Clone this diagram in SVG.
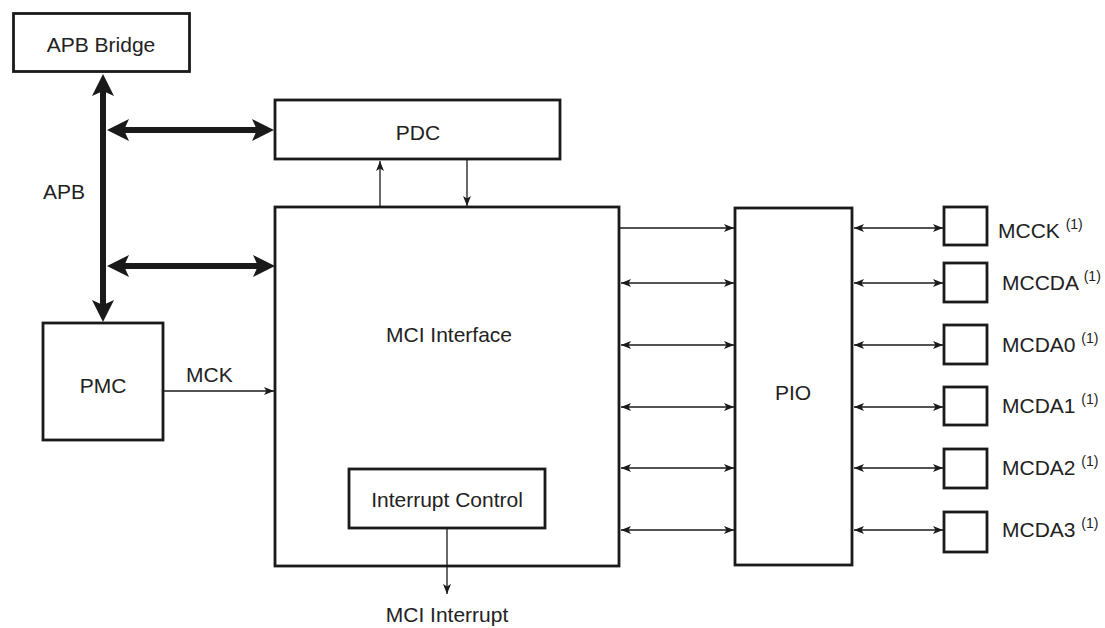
<svg xmlns="http://www.w3.org/2000/svg" width="1105" height="628" viewBox="0 0 1105 628">
<style>
.box{fill:#fff;stroke:#1a1a1a;stroke-width:2.8}
.t{font-family:"Liberation Sans",Arial,sans-serif;font-size:21px;fill:#222}
.c{text-anchor:middle}
.s{font-size:14px}
.thin{stroke:#1a1a1a;stroke-width:1.3;fill:none}
.bus{stroke:#1a1a1a;stroke-width:6;fill:none}
</style>
<defs>
<marker id="a" viewBox="0 0 10 8" refX="10" refY="4" markerWidth="10" markerHeight="8" markerUnits="userSpaceOnUse" orient="auto-start-reverse">
<path d="M0,0 L10,4 L0,8 L2.5,4 Z" fill="#1a1a1a"/>
</marker>
<marker id="b" viewBox="0 0 22 22" refX="6" refY="11" markerWidth="22" markerHeight="22" markerUnits="userSpaceOnUse" orient="auto-start-reverse">
<path d="M0,0 L22,11 L0,22 L5,11 Z" fill="#1a1a1a"/>
</marker>
</defs>
<rect width="1105" height="628" fill="#fff"/>
<g id="apb-bridge">
<rect class="box" x="13.5" y="13.5" width="176" height="58"/>
<text class="t c" x="101" y="52">APB Bridge</text>
</g>
<g id="pdc">
<rect class="box" x="275" y="100" width="285" height="59"/>
<text class="t c" x="418" y="140">PDC</text>
</g>
<g id="mci-interface">
<rect class="box" x="275" y="207" width="344" height="359"/>
<text class="t c" x="449" y="342">MCI Interface</text>
</g>
<g id="interrupt-control">
<rect class="box" x="349" y="469" width="196" height="59"/>
<text class="t c" x="447" y="507">Interrupt Control</text>
</g>
<g id="pmc">
<rect class="box" x="43" y="323" width="120" height="117"/>
<text class="t c" x="103" y="393">PMC</text>
</g>
<g id="pio">
<rect class="box" x="735" y="208" width="117" height="357"/>
<text class="t c" x="793" y="400">PIO</text>
</g>
<g id="pin-mcck">
<rect class="box" x="944" y="207" width="43" height="38"/>
<text class="t" x="998" y="238">MCCK <tspan class="s" dy="-9">(1)</tspan></text>
</g>
<g id="pin-mccda">
<rect class="box" x="944" y="263" width="43" height="39"/>
<text class="t" x="1002" y="290">MCCDA <tspan class="s" dy="-9">(1)</tspan></text>
</g>
<g id="pin-mcda0">
<rect class="box" x="944" y="325" width="43" height="39"/>
<text class="t" x="1002" y="352">MCDA0 <tspan class="s" dy="-9">(1)</tspan></text>
</g>
<g id="pin-mcda1">
<rect class="box" x="944" y="387" width="43" height="38"/>
<text class="t" x="1002" y="413">MCDA1 <tspan class="s" dy="-9">(1)</tspan></text>
</g>
<g id="pin-mcda2">
<rect class="box" x="944" y="449" width="43" height="39"/>
<text class="t" x="1002" y="475">MCDA2 <tspan class="s" dy="-9">(1)</tspan></text>
</g>
<g id="pin-mcda3">
<rect class="box" x="944" y="512" width="43" height="40"/>
<text class="t" x="1002" y="537">MCDA3 <tspan class="s" dy="-9">(1)</tspan></text>
</g>
<g id="connectors">
<line class="bus" x1="103" y1="90" x2="103" y2="306" marker-start="url(#b)" marker-end="url(#b)"/>
<line class="bus" x1="123" y1="130" x2="258" y2="130" marker-start="url(#b)" marker-end="url(#b)"/>
<line class="bus" x1="123" y1="266" x2="259" y2="266" marker-start="url(#b)" marker-end="url(#b)"/>
<line class="thin" x1="380" y1="206" x2="380" y2="161" marker-end="url(#a)"/>
<line class="thin" x1="467" y1="160" x2="467" y2="206" marker-end="url(#a)"/>
<line class="thin" x1="164" y1="391" x2="274" y2="391" marker-end="url(#a)"/>
<line class="thin" x1="447" y1="529" x2="447" y2="594" marker-end="url(#a)"/>
<line class="thin" x1="620" y1="228" x2="734" y2="228" marker-end="url(#a)"/>
<line class="thin" x1="621" y1="283" x2="734" y2="283" marker-start="url(#a)" marker-end="url(#a)"/>
<line class="thin" x1="621" y1="345" x2="734" y2="345" marker-start="url(#a)" marker-end="url(#a)"/>
<line class="thin" x1="621" y1="407" x2="734" y2="407" marker-start="url(#a)" marker-end="url(#a)"/>
<line class="thin" x1="621" y1="468" x2="734" y2="468" marker-start="url(#a)" marker-end="url(#a)"/>
<line class="thin" x1="621" y1="530" x2="734" y2="530" marker-start="url(#a)" marker-end="url(#a)"/>
<line class="thin" x1="854" y1="228" x2="943" y2="228" marker-start="url(#a)" marker-end="url(#a)"/>
<line class="thin" x1="854" y1="283" x2="943" y2="283" marker-start="url(#a)" marker-end="url(#a)"/>
<line class="thin" x1="854" y1="345" x2="943" y2="345" marker-start="url(#a)" marker-end="url(#a)"/>
<line class="thin" x1="854" y1="407" x2="943" y2="407" marker-start="url(#a)" marker-end="url(#a)"/>
<line class="thin" x1="854" y1="468" x2="943" y2="468" marker-start="url(#a)" marker-end="url(#a)"/>
<line class="thin" x1="854" y1="530" x2="943" y2="530" marker-start="url(#a)" marker-end="url(#a)"/>
<text class="t" x="43" y="199">APB</text>
<text class="t" x="186" y="382">MCK</text>
<text class="t c" x="447" y="622">MCI Interrupt</text>
</g>
</svg>
